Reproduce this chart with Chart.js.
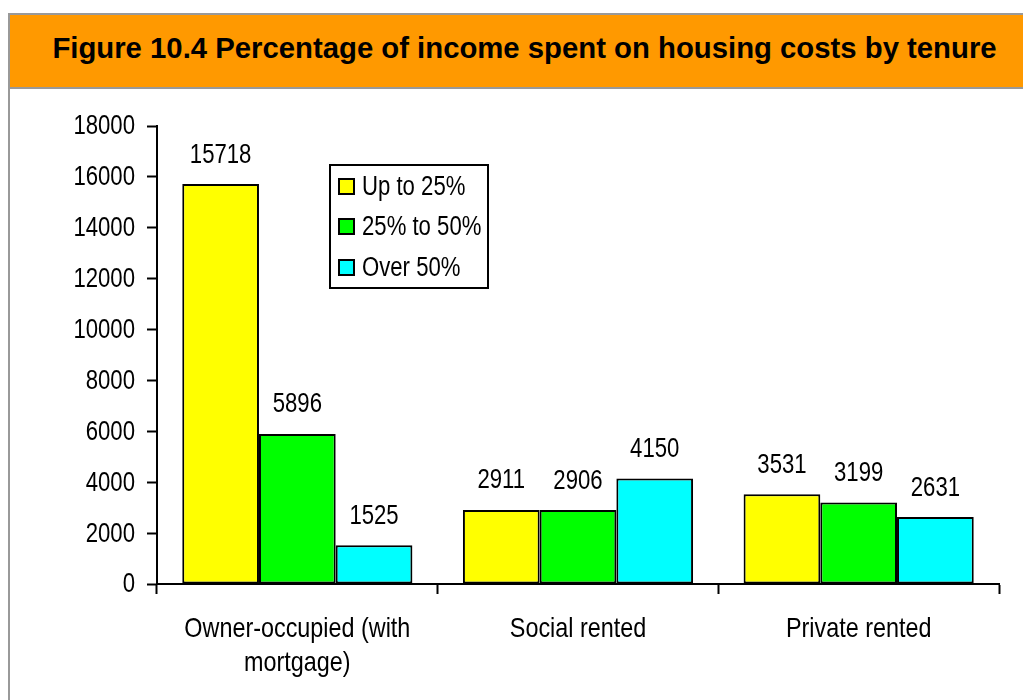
<!DOCTYPE html>
<html>
<head>
<meta charset="utf-8">
<script src="https://cdn.jsdelivr.net/npm/chart.js@4"></script>
<style>
  html, body { margin: 0; padding: 0; background: #fff; overflow: hidden; }
  body { width: 1023px; height: 700px; position: relative; font-family: "Liberation Sans", Arial, sans-serif; }
  #frame { position: absolute; left: 8px; top: 13px; width: 1030px; height: 700px; border: 2px solid #999; box-sizing: border-box; }
  #header { height: 72px; background: #ff9900; border-bottom: 2px solid #999; }
  #title { position: absolute; left: 0; width: 1049px; top: 33px; text-align: center; margin: 0; font-size: 29.3px; line-height: 29px; font-weight: bold; color: #000; white-space: nowrap; }
  #wrap { position: absolute; left: 0; top: 0; width: 1023px; height: 700px; }
</style>
</head>
<body>
<div id="frame"><div id="header"></div></div>
<h1 id="title">Figure 10.4 Percentage of income spent on housing costs by tenure</h1>
<div id="wrap"><canvas id="chart" width="1023" height="700"></canvas></div>
<script>
const categories = [['Owner-occupied (with', 'mortgage)'], 'Social rented', 'Private rented'];
const seriesNames = ['Up to 25%', '25% to 50%', 'Over 50%'];
const upTo25 = [15718, 2911, 3531];
const from25to50 = [5896, 2906, 3199];
const over50 = [1525, 4150, 2631];
const colors = ['#ffff00', '#00ff00', '#00ffff'];
const yTicks = [0, 2000, 4000, 6000, 8000, 10000, 12000, 14000, 16000, 18000];

// no narrow font installed, so squeeze Liberation Sans like Arial Narrow
const FONT = '27px "Liberation Sans", Arial, sans-serif';
const CAT_FONT = '28.5px "Liberation Sans", Arial, sans-serif';
const SQUEEZE = 0.82;

function narrowText(ctx, text, x, y, align) {
  ctx.save();
  ctx.translate(x, y);
  ctx.scale(SQUEEZE, 1);
  ctx.textAlign = align;
  ctx.fillText(text, 0, 0);
  ctx.restore();
}

const textLayer = {
  id: 'textLayer',
  afterDraw(chart) {
    const ctx = chart.ctx;
    ctx.save();
    ctx.font = FONT;
    ctx.fillStyle = '#000';
    ctx.textBaseline = 'middle';

    // value labels above bars
    chart.data.datasets.forEach((ds, i) => {
      chart.getDatasetMeta(i).data.forEach((bar, j) => {
        narrowText(ctx, String(ds.data[j]), bar.x, bar.y - 29, 'center');
      });
    });

    // y axis labels
    const y = chart.scales.y;
    yTicks.forEach(v => narrowText(ctx, String(v), 135, y.getPixelForValue(v) + 1, 'right'));

    // category labels
    const x = chart.scales.x;
    ctx.font = CAT_FONT;
    categories.forEach((c, i) => {
      const lines = Array.isArray(c) ? c : [c];
      lines.forEach((ln, k) => narrowText(ctx, ln, x.getPixelForValue(i), 629 + k * 34, 'center'));
    });

    // legend box
    ctx.font = FONT;
    ctx.fillStyle = '#fff';
    ctx.fillRect(330, 165, 158, 123);
    ctx.strokeStyle = '#000';
    ctx.lineWidth = 2;
    ctx.strokeRect(330, 165, 158, 123);
    const rows = [187, 227, 268];
    seriesNames.forEach((name, i) => {
      ctx.fillStyle = colors[i];
      ctx.fillRect(339, rows[i] - 8, 15, 15);
      ctx.strokeRect(339, rows[i] - 8, 15, 15);
      ctx.fillStyle = '#000';
      narrowText(ctx, name, 362, rows[i] + 1, 'left');
    });
    ctx.restore();
  }
};

new Chart(document.getElementById('chart'), {
  type: 'bar',
  data: {
    labels: categories,
    datasets: [upTo25, from25to50, over50].map((d, i) => ({
      label: seriesNames[i],
      data: d,
      backgroundColor: colors[i],
      borderColor: '#000',
      borderWidth: 2,
      borderSkipped: false,
      categoryPercentage: 0.82,
      barPercentage: 1
    }))
  },
  options: {
    responsive: false,
    animation: false,
    layout: { padding: { top: 126, right: 24, left: 0, bottom: 0 } },
    plugins: { legend: { display: false }, tooltip: { enabled: false } },
    scales: {
      x: {
        grid: { display: true, offset: true, drawOnChartArea: false, tickLength: 10, tickColor: '#000', tickWidth: 2 },
        border: { color: '#000', width: 2 },
        ticks: { color: 'transparent', maxRotation: 0 },
        afterFit(scale) { scale.height = 116; }
      },
      y: {
        min: 0,
        max: 18000,
        afterBuildTicks(scale) { scale.ticks = yTicks.map(v => ({ value: v })); },
        grid: { drawOnChartArea: false, tickLength: 10, tickColor: '#000', tickWidth: 2 },
        border: { color: '#000', width: 2 },
        ticks: { color: 'transparent' },
        afterFit(scale) { scale.width = 157; }
      }
    }
  },
  plugins: [textLayer]
});
</script>
</body>
</html>
